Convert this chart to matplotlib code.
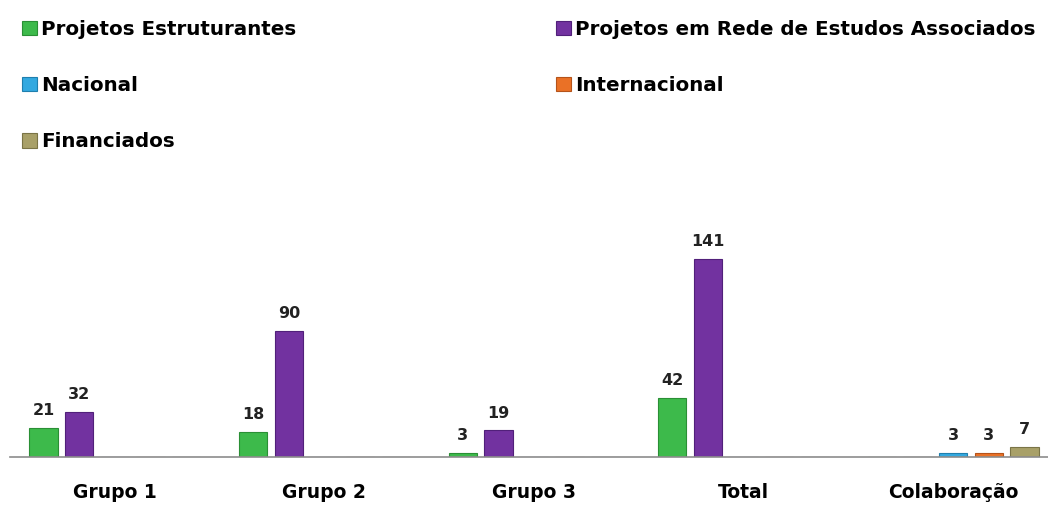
import numpy as np
import matplotlib.pyplot as plt

categories = ['Grupo 1', 'Grupo 2', 'Grupo 3', 'Total', 'Colaboração']
series_names = ['Projetos Estruturantes', 'Projetos em Rede de Estudos Associados',
                'Nacional', 'Internacional', 'Financiados']
estruturantes = [21, 18, 3, 42, None]
rede = [32, 90, 19, 141, None]
nacional = [None, None, None, None, 3]
internacional = [None, None, None, None, 3]
financiados = [None, None, None, None, 7]

series = [estruturantes, rede, nacional, internacional, financiados]
colors = ['#3dba4b', '#7232a0', '#33a9e0', '#ea7126', '#a8a068']
edges = ['#2a8f35', '#51207a', '#1f7fae', '#b5531a', '#7a7446']

plt.rcParams['font.family'] = ['DejaVu Sans']
fig = plt.figure(figsize=(10.48, 5.08), dpi=100)
ax = fig.add_axes([10 / 1048, 0.1004, 1.0, 0.442])

x = np.arange(len(categories))
step = 0.17
width = 0.135
handles = []
for i, (vals, col, ec) in enumerate(zip(series, colors, edges)):
    pos = x + (i - 2) * step
    v = np.array([np.nan if a is None else a for a in vals], dtype=float)
    bars = ax.bar(pos, np.nan_to_num(v), width, color=col, edgecolor=ec,
                  linewidth=0.8, label=series_names[i])
    handles.append(bars)
    for p, val in zip(pos, vals):
        if val is None:
            continue
        ax.text(p, val + 7, str(val), ha='center', va='bottom',
                fontsize=11.5, fontweight='bold', color='#222222')

ax.set_xlim(-0.5, 4.5)
ax.set_ylim(0, 160)
ax.set_yticks([])
ax.set_xticks(x)
ax.set_xticklabels(categories, fontsize=13.5, fontweight='bold')
ax.tick_params(axis='x', length=0, pad=19)
for s in ['top', 'right', 'left']:
    ax.spines[s].set_visible(False)
ax.spines['bottom'].set_color('#8c8c8c')
ax.spines['bottom'].set_linewidth(1.2)

leg_kw = dict(frameon=False, handlelength=0.75, handleheight=0.75,
              handletextpad=0.2, labelspacing=1.87,
              prop={'size': 14.3, 'weight': 'bold'}, loc='upper left')
leg1 = fig.legend([handles[0], handles[2], handles[4]],
                  [series_names[0], series_names[2], series_names[4]],
                  bbox_to_anchor=(4 / 1048, 1 - 2 / 508), **leg_kw)
leg2 = fig.legend([handles[1], handles[3]],
                  [series_names[1], series_names[3]],
                  bbox_to_anchor=(538 / 1048, 1 - 2 / 508), **leg_kw)

fig.savefig('out.png', dpi=100)
